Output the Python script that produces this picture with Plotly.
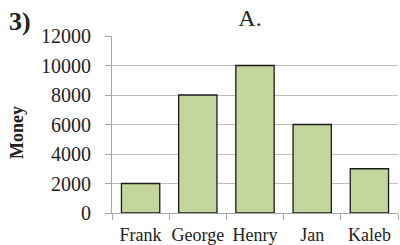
import plotly.graph_objects as go

names = ["Frank", "George", "Henry", "Jan", "Kaleb"]
money = [2000, 8000, 10000, 6000, 3000]
y_ticks = [0, 2000, 4000, 6000, 8000, 10000, 12000]

fig = go.Figure(go.Bar(
    x=names, y=money,
    marker=dict(color="#c3d69b", line=dict(color="#1a1a1a", width=1.3)),
    width=0.67,
))

font = "Liberation Serif, Times New Roman, serif"
L, R, T, B = 112, 2, 36, 32
PW, PH = 400 - L - R, 245 - T - B

def px(x):
    return (x - L) / PW

def py(y):
    return (245 - B - y) / PH

fig.update_layout(
    width=400, height=245,
    margin=dict(l=L, r=R, t=T, b=B),
    paper_bgcolor="white", plot_bgcolor="white",
    font=dict(family=font, size=18, color="#222"),
    showlegend=False,
    title=dict(text="A.", x=0.625, xanchor="center", y=1 - 18 / 245, yanchor="middle",
               font=dict(family=font, size=24, color="#222")),
)
fig.add_annotation(text="<b>3)</b>", xref="paper", yref="paper", x=px(20), y=py(21),
                   xanchor="center", yanchor="middle", showarrow=False,
                   font=dict(family=font, size=26, color="#222"))
fig.add_annotation(text="<b>Money</b>", xref="paper", yref="paper", x=px(17), y=py(133),
                   textangle=-90, showarrow=False, xanchor="center", yanchor="middle",
                   font=dict(family=font, size=18, color="#222"))

fig.update_xaxes(
    showline=True, linecolor="#a6a6a6", linewidth=1,
    ticks="outside", tickson="boundaries", ticklen=6, tickcolor="#a6a6a6",
    showgrid=False, tickfont=dict(size=18), tickangle=0, automargin=False,
    ticklabelstandoff=5,
)
fig.update_yaxes(
    range=[0, 12000], tickvals=y_ticks, ticktext=[str(v) for v in y_ticks],
    showline=True, linecolor="#a6a6a6", linewidth=1,
    ticks="outside", ticklen=6, tickcolor="#a6a6a6",
    showgrid=True, gridcolor="#bfbfbf", gridwidth=1,
    zeroline=False, tickfont=dict(size=20), ticklabelstandoff=10, automargin=False,
)

fig.write_html("out.html", config={"displayModeBar": False},
               post_script="document.body.style.margin='0';")
